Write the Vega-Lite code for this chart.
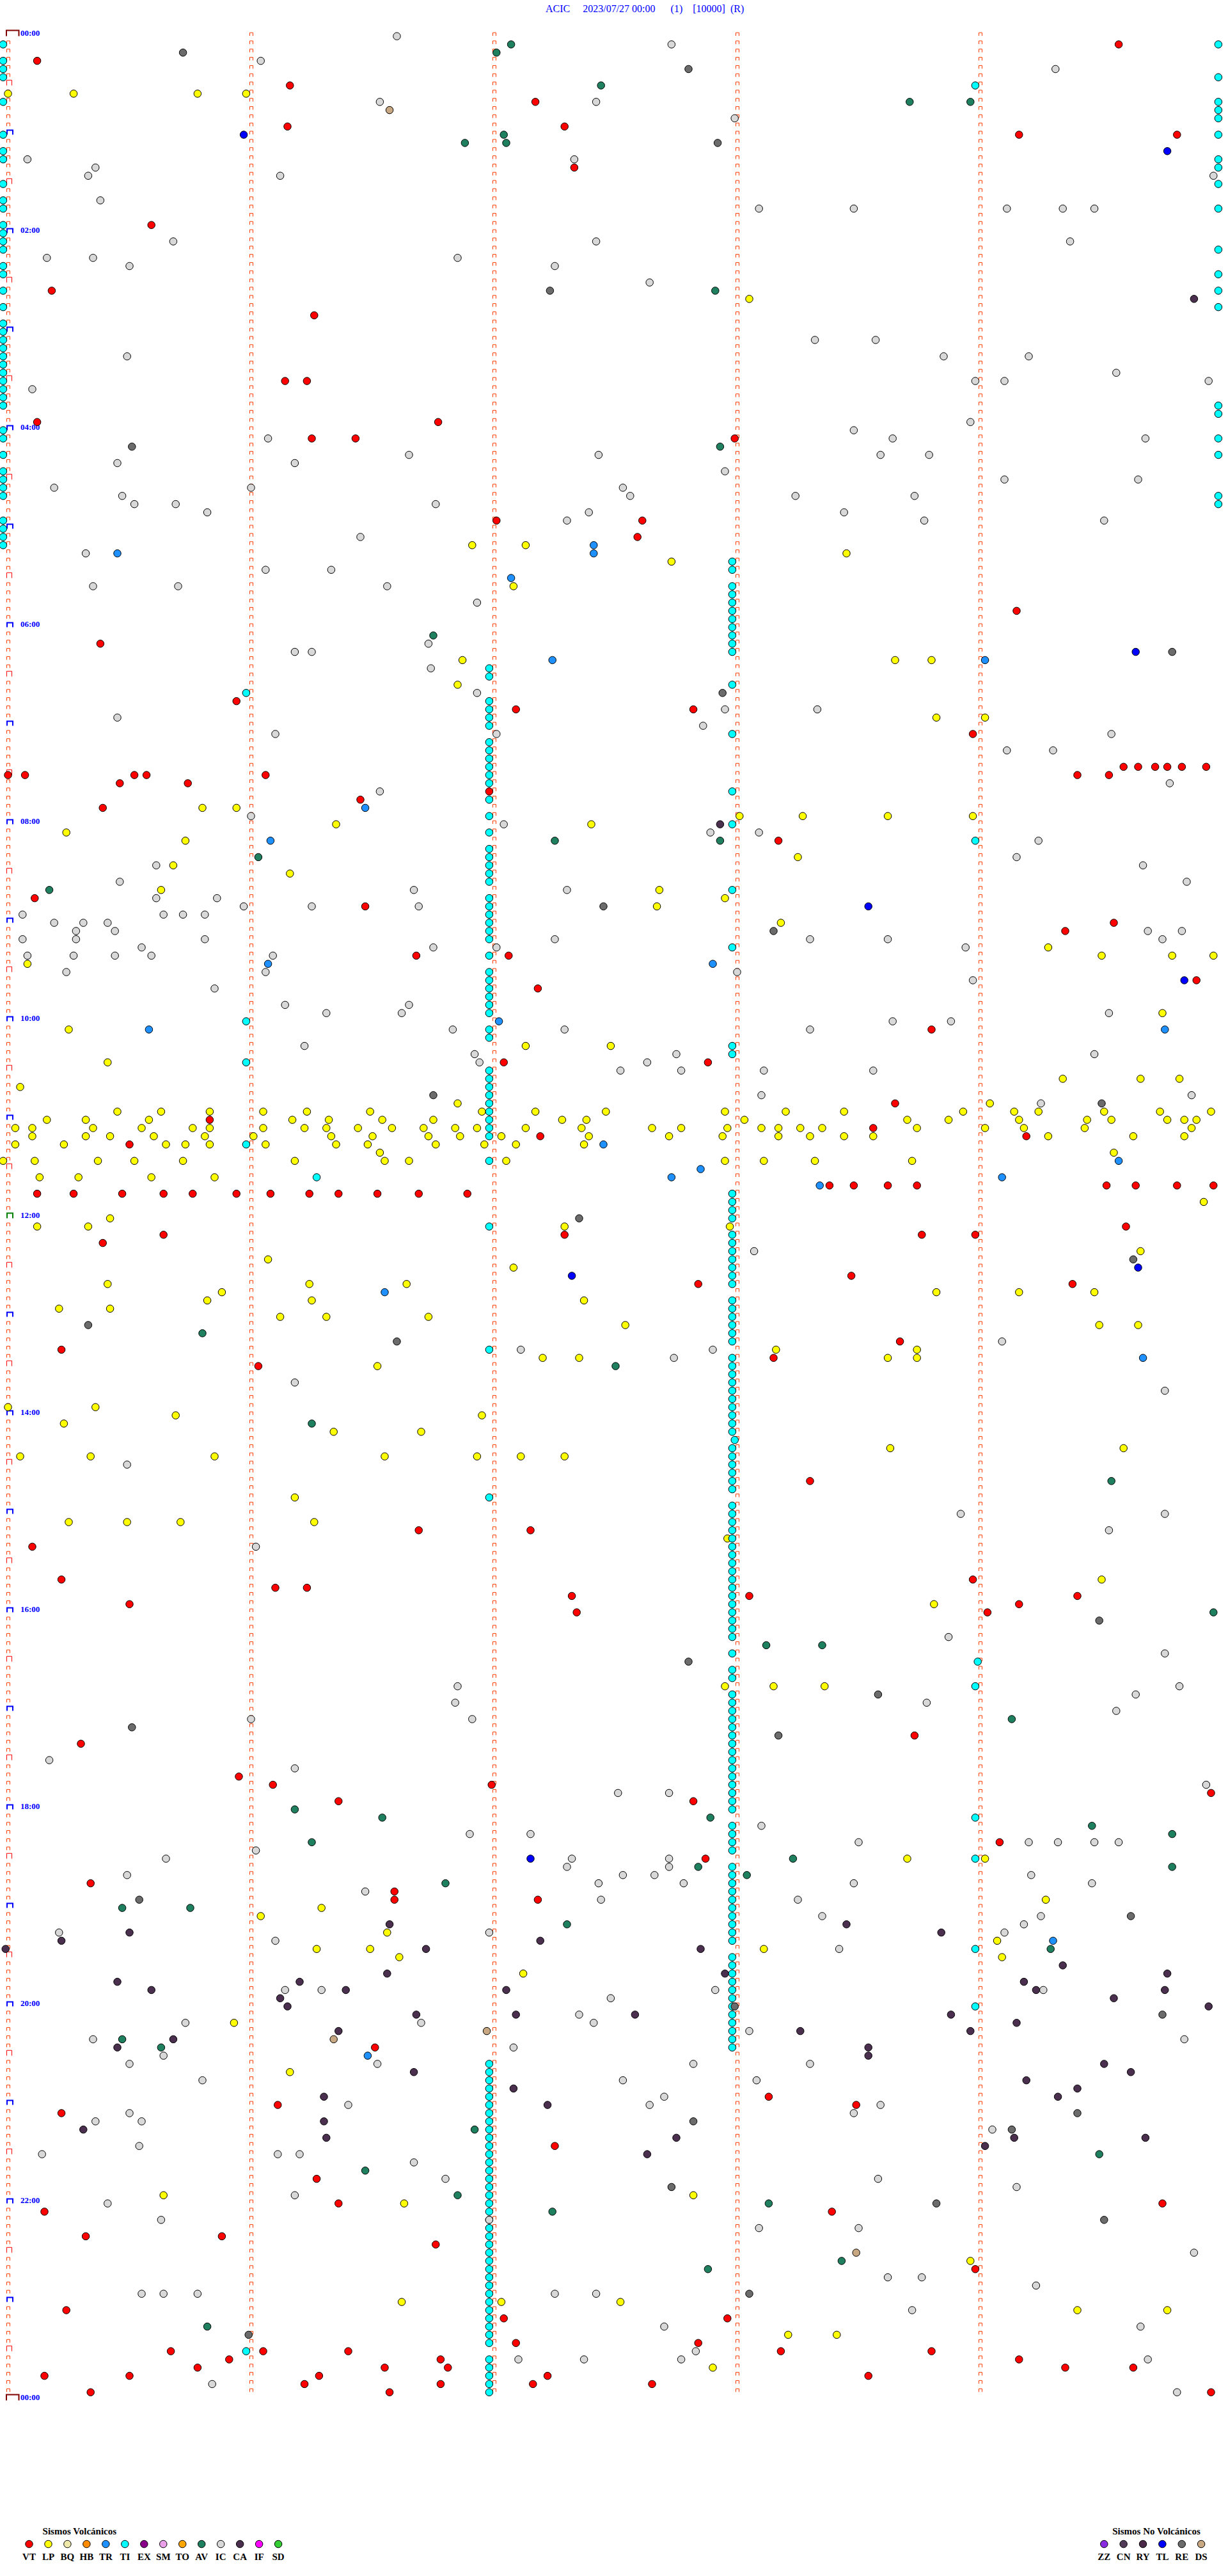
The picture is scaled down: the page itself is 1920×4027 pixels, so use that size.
{
"$schema":"https://vega.github.io/schema/vega-lite/v6.json",
"width":1920,"height":4027,"autosize":{"type":"none"},"padding":0,"background":"white",
"config":{"view":{"stroke":null}},
"resolve":{"scale":{"x":"independent"}},
"datasets":{
"rows":[{"r":0},{"r":1},{"r":2},{"r":3},{"r":4},{"r":5},{"r":6},{"r":7},{"r":8},{"r":9},{"r":10},{"r":11},{"r":12},{"r":13},{"r":14},{"r":15},{"r":16},{"r":17},{"r":18},{"r":19},{"r":20},{"r":21},{"r":22},{"r":23},{"r":24},{"r":25},{"r":26},{"r":27},{"r":28},{"r":29},{"r":30},{"r":31},{"r":32},{"r":33},{"r":34},{"r":35},{"r":36},{"r":37},{"r":38},{"r":39},{"r":40},{"r":41},{"r":42},{"r":43},{"r":44},{"r":45},{"r":46},{"r":47},{"r":48},{"r":49},{"r":50},{"r":51},{"r":52},{"r":53},{"r":54},{"r":55},{"r":56},{"r":57},{"r":58},{"r":59},{"r":60},{"r":61},{"r":62},{"r":63},{"r":64},{"r":65},{"r":66},{"r":67},{"r":68},{"r":69},{"r":70},{"r":71},{"r":72},{"r":73},{"r":74},{"r":75},{"r":76},{"r":77},{"r":78},{"r":79},{"r":80},{"r":81},{"r":82},{"r":83},{"r":84},{"r":85},{"r":86},{"r":87},{"r":88},{"r":89},{"r":90},{"r":91},{"r":92},{"r":93},{"r":94},{"r":95},{"r":96},{"r":97},{"r":98},{"r":99},{"r":100},{"r":101},{"r":102},{"r":103},{"r":104},{"r":105},{"r":106},{"r":107},{"r":108},{"r":109},{"r":110},{"r":111},{"r":112},{"r":113},{"r":114},{"r":115},{"r":116},{"r":117},{"r":118},{"r":119},{"r":120},{"r":121},{"r":122},{"r":123},{"r":124},{"r":125},{"r":126},{"r":127},{"r":128},{"r":129},{"r":130},{"r":131},{"r":132},{"r":133},{"r":134},{"r":135},{"r":136},{"r":137},{"r":138},{"r":139},{"r":140},{"r":141},{"r":142},{"r":143},{"r":144},{"r":145},{"r":146},{"r":147},{"r":148},{"r":149},{"r":150},{"r":151},{"r":152},{"r":153},{"r":154},{"r":155},{"r":156},{"r":157},{"r":158},{"r":159},{"r":160},{"r":161},{"r":162},{"r":163},{"r":164},{"r":165},{"r":166},{"r":167},{"r":168},{"r":169},{"r":170},{"r":171},{"r":172},{"r":173},{"r":174},{"r":175},{"r":176},{"r":177},{"r":178},{"r":179},{"r":180},{"r":181},{"r":182},{"r":183},{"r":184},{"r":185},{"r":186},{"r":187},{"r":188},{"r":189},{"r":190},{"r":191},{"r":192},{"r":193},{"r":194},{"r":195},{"r":196},{"r":197},{"r":198},{"r":199},{"r":200},{"r":201},{"r":202},{"r":203},{"r":204},{"r":205},{"r":206},{"r":207},{"r":208},{"r":209},{"r":210},{"r":211},{"r":212},{"r":213},{"r":214},{"r":215},{"r":216},{"r":217},{"r":218},{"r":219},{"r":220},{"r":221},{"r":222},{"r":223},{"r":224},{"r":225},{"r":226},{"r":227},{"r":228},{"r":229},{"r":230},{"r":231},{"r":232},{"r":233},{"r":234},{"r":235},{"r":236},{"r":237},{"r":238},{"r":239},{"r":240},{"r":241},{"r":242},{"r":243},{"r":244},{"r":245},{"r":246},{"r":247},{"r":248},{"r":249},{"r":250},{"r":251},{"r":252},{"r":253},{"r":254},{"r":255},{"r":256},{"r":257},{"r":258},{"r":259},{"r":260},{"r":261},{"r":262},{"r":263},{"r":264},{"r":265},{"r":266},{"r":267},{"r":268},{"r":269},{"r":270},{"r":271},{"r":272},{"r":273},{"r":274},{"r":275},{"r":276},{"r":277},{"r":278},{"r":279},{"r":280},{"r":281},{"r":282},{"r":283},{"r":284},{"r":285},{"r":286},{"r":287},{"r":288}],
"hours":[{"r":0,"l":"00:00"},{"r":24,"l":"02:00"},{"r":48,"l":"04:00"},{"r":72,"l":"06:00"},{"r":96,"l":"08:00"},{"r":120,"l":"10:00"},{"r":144,"l":"12:00"},{"r":168,"l":"14:00"},{"r":192,"l":"16:00"},{"r":216,"l":"18:00"},{"r":240,"l":"20:00"},{"r":264,"l":"22:00"},{"r":288,"l":"00:00"}],
"legv":[{"i":0,"k":"VT"},{"i":1,"k":"LP"},{"i":2,"k":"BQ"},{"i":3,"k":"HB"},{"i":4,"k":"TR"},{"i":5,"k":"TI"},{"i":6,"k":"EX"},{"i":7,"k":"SM"},{"i":8,"k":"TO"},{"i":9,"k":"AV"},{"i":10,"k":"IC"},{"i":11,"k":"CA"},{"i":12,"k":"IF"},{"i":13,"k":"SD"}],
"legn":[{"i":0,"k":"ZZ"},{"i":1,"k":"CN"},{"i":2,"k":"RY"},{"i":3,"k":"TL"},{"i":4,"k":"RE"},{"i":5,"k":"DS"}],
"ev":[
{"r":0,"m":1.6,"k":"IC"},
{"r":1,"m":-0.02,"k":"TI"},{"r":1,"m":2.07,"k":"AV"},{"r":1,"m":2.73,"k":"IC"},{"r":1,"m":4.57,"k":"VT"},{"r":1,"m":4.98,"k":"TI"},
{"r":2,"m":0.72,"k":"RE"},{"r":2,"m":2.01,"k":"AV"},
{"r":3,"m":-0.02,"k":"TI"},{"r":3,"m":0.12,"k":"VT"},{"r":3,"m":1.04,"k":"IC"},
{"r":4,"m":-0.02,"k":"TI"},{"r":4,"m":2.8,"k":"RE"},{"r":4,"m":4.31,"k":"IC"},
{"r":5,"m":-0.02,"k":"TI"},{"r":5,"m":4.98,"k":"TI"},
{"r":6,"m":1.16,"k":"VT"},{"r":6,"m":2.44,"k":"AV"},{"r":6,"m":3.98,"k":"TI"},
{"r":7,"m":0.0,"k":"LP"},{"r":7,"m":0.27,"k":"LP"},{"r":7,"m":0.78,"k":"LP"},{"r":7,"m":0.98,"k":"LP"},
{"r":8,"m":-0.02,"k":"TI"},{"r":8,"m":1.53,"k":"IC"},{"r":8,"m":2.17,"k":"VT"},{"r":8,"m":2.42,"k":"IC"},{"r":8,"m":3.71,"k":"AV"},{"r":8,"m":3.96,"k":"AV"},{"r":8,"m":4.98,"k":"TI"},
{"r":9,"m":1.57,"k":"DS"},{"r":9,"m":4.98,"k":"TI"},
{"r":10,"m":2.99,"k":"IC"},{"r":10,"m":4.98,"k":"TI"},
{"r":11,"m":1.15,"k":"VT"},{"r":11,"m":2.29,"k":"VT"},
{"r":12,"m":-0.02,"k":"TI"},{"r":12,"m":0.97,"k":"TL"},{"r":12,"m":2.04,"k":"AV"},{"r":12,"m":4.16,"k":"VT"},{"r":12,"m":4.81,"k":"VT"},{"r":12,"m":4.98,"k":"TI"},
{"r":13,"m":1.88,"k":"AV"},{"r":13,"m":2.05,"k":"AV"},{"r":13,"m":2.92,"k":"RE"},
{"r":14,"m":-0.02,"k":"TI"},{"r":14,"m":4.77,"k":"TL"},
{"r":15,"m":-0.02,"k":"TI"},{"r":15,"m":0.08,"k":"IC"},{"r":15,"m":2.33,"k":"IC"},{"r":15,"m":4.98,"k":"TI"},
{"r":16,"m":0.36,"k":"IC"},{"r":16,"m":2.33,"k":"VT"},{"r":16,"m":4.98,"k":"TI"},
{"r":17,"m":0.33,"k":"IC"},{"r":17,"m":1.12,"k":"IC"},{"r":17,"m":4.96,"k":"IC"},
{"r":18,"m":-0.02,"k":"TI"},{"r":18,"m":4.98,"k":"TI"},
{"r":20,"m":-0.02,"k":"TI"},{"r":20,"m":0.38,"k":"IC"},
{"r":21,"m":-0.02,"k":"TI"},{"r":21,"m":3.09,"k":"IC"},{"r":21,"m":3.48,"k":"IC"},{"r":21,"m":4.11,"k":"IC"},{"r":21,"m":4.34,"k":"IC"},{"r":21,"m":4.47,"k":"IC"},{"r":21,"m":4.98,"k":"TI"},
{"r":23,"m":-0.02,"k":"TI"},{"r":23,"m":0.59,"k":"VT"},
{"r":24,"m":-0.02,"k":"TI"},
{"r":25,"m":-0.02,"k":"TI"},{"r":25,"m":0.68,"k":"IC"},{"r":25,"m":2.42,"k":"IC"},{"r":25,"m":4.37,"k":"IC"},
{"r":26,"m":-0.02,"k":"TI"},{"r":26,"m":4.98,"k":"TI"},
{"r":27,"m":0.16,"k":"IC"},{"r":27,"m":0.35,"k":"IC"},{"r":27,"m":1.85,"k":"IC"},
{"r":28,"m":-0.02,"k":"TI"},{"r":28,"m":0.5,"k":"IC"},{"r":28,"m":2.25,"k":"IC"},
{"r":29,"m":-0.02,"k":"TI"},{"r":29,"m":4.98,"k":"TI"},
{"r":30,"m":2.64,"k":"IC"},
{"r":31,"m":-0.02,"k":"TI"},{"r":31,"m":0.18,"k":"VT"},{"r":31,"m":2.23,"k":"RE"},{"r":31,"m":2.91,"k":"AV"},{"r":31,"m":4.98,"k":"TI"},
{"r":32,"m":3.05,"k":"LP"},{"r":32,"m":4.88,"k":"CA"},
{"r":33,"m":-0.02,"k":"TI"},{"r":33,"m":4.98,"k":"TI"},
{"r":34,"m":1.26,"k":"VT"},
{"r":35,"m":-0.02,"k":"TI"},{"r":36,"m":-0.02,"k":"TI"},
{"r":37,"m":-0.02,"k":"TI"},{"r":37,"m":3.32,"k":"IC"},{"r":37,"m":3.57,"k":"IC"},
{"r":38,"m":-0.02,"k":"TI"},
{"r":39,"m":-0.02,"k":"TI"},{"r":39,"m":0.49,"k":"IC"},{"r":39,"m":3.85,"k":"IC"},{"r":39,"m":4.2,"k":"IC"},
{"r":40,"m":-0.02,"k":"TI"},
{"r":41,"m":-0.02,"k":"TI"},{"r":41,"m":4.56,"k":"IC"},
{"r":42,"m":-0.02,"k":"TI"},{"r":42,"m":1.14,"k":"VT"},{"r":42,"m":1.23,"k":"VT"},{"r":42,"m":3.98,"k":"IC"},{"r":42,"m":4.1,"k":"IC"},{"r":42,"m":4.94,"k":"IC"},
{"r":43,"m":-0.02,"k":"TI"},{"r":43,"m":0.1,"k":"IC"},
{"r":44,"m":-0.02,"k":"TI"},
{"r":45,"m":-0.02,"k":"TI"},{"r":45,"m":4.98,"k":"TI"},
{"r":46,"m":4.98,"k":"TI"},
{"r":47,"m":0.12,"k":"VT"},{"r":47,"m":1.77,"k":"VT"},{"r":47,"m":3.96,"k":"IC"},
{"r":48,"m":-0.02,"k":"TI"},{"r":48,"m":3.48,"k":"IC"},
{"r":49,"m":-0.02,"k":"TI"},{"r":49,"m":1.07,"k":"IC"},{"r":49,"m":1.25,"k":"VT"},{"r":49,"m":1.43,"k":"VT"},{"r":49,"m":2.99,"k":"VT"},{"r":49,"m":3.64,"k":"IC"},{"r":49,"m":4.68,"k":"IC"},{"r":49,"m":4.98,"k":"TI"},
{"r":50,"m":0.51,"k":"RE"},{"r":50,"m":2.93,"k":"AV"},
{"r":51,"m":-0.02,"k":"TI"},{"r":51,"m":1.65,"k":"IC"},{"r":51,"m":2.43,"k":"IC"},{"r":51,"m":3.59,"k":"IC"},{"r":51,"m":3.79,"k":"IC"},{"r":51,"m":4.98,"k":"TI"},
{"r":52,"m":0.45,"k":"IC"},{"r":52,"m":1.18,"k":"IC"},
{"r":53,"m":-0.02,"k":"TI"},{"r":53,"m":2.95,"k":"IC"},
{"r":54,"m":-0.02,"k":"TI"},{"r":54,"m":4.1,"k":"IC"},{"r":54,"m":4.65,"k":"IC"},
{"r":55,"m":-0.02,"k":"TI"},{"r":55,"m":0.19,"k":"IC"},{"r":55,"m":1.0,"k":"IC"},{"r":55,"m":2.53,"k":"IC"},
{"r":56,"m":-0.02,"k":"TI"},{"r":56,"m":0.47,"k":"IC"},{"r":56,"m":2.56,"k":"IC"},{"r":56,"m":3.24,"k":"IC"},{"r":56,"m":3.73,"k":"IC"},{"r":56,"m":4.98,"k":"TI"},
{"r":57,"m":0.52,"k":"IC"},{"r":57,"m":0.69,"k":"IC"},{"r":57,"m":1.76,"k":"IC"},{"r":57,"m":4.98,"k":"TI"},
{"r":58,"m":0.82,"k":"IC"},{"r":58,"m":2.39,"k":"IC"},{"r":58,"m":3.44,"k":"IC"},
{"r":59,"m":-0.02,"k":"TI"},{"r":59,"m":2.01,"k":"VT"},{"r":59,"m":2.3,"k":"IC"},{"r":59,"m":2.61,"k":"VT"},{"r":59,"m":3.77,"k":"IC"},{"r":59,"m":4.51,"k":"IC"},
{"r":60,"m":-0.02,"k":"TI"},
{"r":61,"m":-0.02,"k":"TI"},{"r":61,"m":1.45,"k":"IC"},{"r":61,"m":2.59,"k":"VT"},
{"r":62,"m":-0.02,"k":"TI"},{"r":62,"m":1.91,"k":"LP"},{"r":62,"m":2.13,"k":"LP"},{"r":62,"m":2.41,"k":"TR"},
{"r":63,"m":0.32,"k":"IC"},{"r":63,"m":0.45,"k":"TR"},{"r":63,"m":2.41,"k":"TR"},{"r":63,"m":3.45,"k":"LP"},
{"r":64,"m":2.73,"k":"LP"},{"r":64,"m":2.98,"k":"TI"},
{"r":65,"m":1.06,"k":"IC"},{"r":65,"m":1.33,"k":"IC"},{"r":65,"m":2.98,"k":"TI"},
{"r":66,"m":2.07,"k":"TR"},
{"r":67,"m":0.35,"k":"IC"},{"r":67,"m":0.7,"k":"IC"},{"r":67,"m":1.56,"k":"IC"},{"r":67,"m":2.08,"k":"LP"},{"r":67,"m":2.98,"k":"TI"},
{"r":68,"m":2.98,"k":"TI"},
{"r":69,"m":1.93,"k":"IC"},{"r":69,"m":2.98,"k":"TI"},
{"r":70,"m":2.98,"k":"TI"},{"r":70,"m":4.15,"k":"VT"},
{"r":71,"m":2.98,"k":"TI"},{"r":72,"m":2.98,"k":"TI"},
{"r":73,"m":1.75,"k":"AV"},{"r":73,"m":2.98,"k":"TI"},
{"r":74,"m":0.38,"k":"VT"},{"r":74,"m":1.73,"k":"IC"},{"r":74,"m":2.98,"k":"TI"},
{"r":75,"m":1.18,"k":"IC"},{"r":75,"m":1.25,"k":"IC"},{"r":75,"m":2.98,"k":"TI"},{"r":75,"m":4.64,"k":"TL"},{"r":75,"m":4.79,"k":"RE"},
{"r":76,"m":1.87,"k":"LP"},{"r":76,"m":2.24,"k":"TR"},{"r":76,"m":3.65,"k":"LP"},{"r":76,"m":3.8,"k":"LP"},{"r":76,"m":4.02,"k":"TR"},
{"r":77,"m":1.74,"k":"IC"},{"r":77,"m":1.98,"k":"TI"},
{"r":78,"m":1.98,"k":"TI"},
{"r":79,"m":1.85,"k":"LP"},{"r":79,"m":2.98,"k":"TI"},
{"r":80,"m":0.98,"k":"TI"},{"r":80,"m":1.93,"k":"IC"},{"r":80,"m":2.94,"k":"RE"},
{"r":81,"m":0.94,"k":"VT"},{"r":81,"m":1.98,"k":"TI"},
{"r":82,"m":1.98,"k":"TI"},{"r":82,"m":2.09,"k":"VT"},{"r":82,"m":2.82,"k":"VT"},{"r":82,"m":2.95,"k":"IC"},{"r":82,"m":3.33,"k":"IC"},
{"r":83,"m":0.45,"k":"IC"},{"r":83,"m":1.98,"k":"TI"},{"r":83,"m":3.82,"k":"LP"},{"r":83,"m":4.02,"k":"LP"},
{"r":84,"m":1.98,"k":"TI"},{"r":84,"m":2.86,"k":"IC"},
{"r":85,"m":1.1,"k":"IC"},{"r":85,"m":2.01,"k":"IC"},{"r":85,"m":2.98,"k":"TI"},{"r":85,"m":3.97,"k":"VT"},{"r":85,"m":4.54,"k":"IC"},
{"r":86,"m":1.98,"k":"TI"},
{"r":87,"m":1.98,"k":"TI"},{"r":87,"m":4.11,"k":"IC"},{"r":87,"m":4.3,"k":"IC"},
{"r":88,"m":1.98,"k":"TI"},
{"r":89,"m":1.98,"k":"TI"},{"r":89,"m":4.59,"k":"VT"},{"r":89,"m":4.65,"k":"VT"},{"r":89,"m":4.72,"k":"VT"},{"r":89,"m":4.77,"k":"VT"},{"r":89,"m":4.83,"k":"VT"},{"r":89,"m":4.93,"k":"VT"},
{"r":90,"m":0.0,"k":"VT"},{"r":90,"m":0.07,"k":"VT"},{"r":90,"m":0.52,"k":"VT"},{"r":90,"m":0.57,"k":"VT"},{"r":90,"m":1.06,"k":"VT"},{"r":90,"m":1.98,"k":"TI"},{"r":90,"m":4.4,"k":"VT"},{"r":90,"m":4.53,"k":"VT"},
{"r":91,"m":0.46,"k":"VT"},{"r":91,"m":0.74,"k":"VT"},{"r":91,"m":1.98,"k":"TI"},{"r":91,"m":4.78,"k":"IC"},
{"r":92,"m":1.53,"k":"IC"},{"r":92,"m":1.98,"k":"VT"},{"r":92,"m":2.98,"k":"TI"},
{"r":93,"m":1.45,"k":"VT"},{"r":93,"m":1.98,"k":"TI"},
{"r":94,"m":0.39,"k":"VT"},{"r":94,"m":0.8,"k":"LP"},{"r":94,"m":0.94,"k":"LP"},{"r":94,"m":1.47,"k":"TR"},
{"r":95,"m":1.0,"k":"IC"},{"r":95,"m":1.98,"k":"TI"},{"r":95,"m":3.01,"k":"LP"},{"r":95,"m":3.27,"k":"LP"},{"r":95,"m":3.62,"k":"LP"},{"r":95,"m":3.97,"k":"LP"},
{"r":96,"m":1.35,"k":"LP"},{"r":96,"m":2.04,"k":"IC"},{"r":96,"m":2.4,"k":"LP"},{"r":96,"m":2.93,"k":"CA"},{"r":96,"m":2.98,"k":"TI"},
{"r":97,"m":0.24,"k":"LP"},{"r":97,"m":1.98,"k":"TI"},{"r":97,"m":2.89,"k":"IC"},{"r":97,"m":3.09,"k":"IC"},
{"r":98,"m":0.73,"k":"LP"},{"r":98,"m":1.08,"k":"TR"},{"r":98,"m":2.25,"k":"AV"},{"r":98,"m":2.93,"k":"AV"},{"r":98,"m":3.17,"k":"VT"},{"r":98,"m":3.98,"k":"TI"},{"r":98,"m":4.24,"k":"IC"},
{"r":99,"m":1.98,"k":"TI"},
{"r":100,"m":1.03,"k":"AV"},{"r":100,"m":1.98,"k":"TI"},{"r":100,"m":3.25,"k":"LP"},{"r":100,"m":4.15,"k":"IC"},
{"r":101,"m":0.61,"k":"IC"},{"r":101,"m":0.68,"k":"LP"},{"r":101,"m":1.98,"k":"TI"},{"r":101,"m":4.67,"k":"IC"},
{"r":102,"m":1.16,"k":"LP"},{"r":102,"m":1.98,"k":"TI"},
{"r":103,"m":0.46,"k":"IC"},{"r":103,"m":1.98,"k":"TI"},{"r":103,"m":4.85,"k":"IC"},
{"r":104,"m":0.17,"k":"AV"},{"r":104,"m":0.63,"k":"LP"},{"r":104,"m":1.67,"k":"IC"},{"r":104,"m":2.3,"k":"IC"},{"r":104,"m":2.68,"k":"LP"},{"r":104,"m":2.98,"k":"TI"},
{"r":105,"m":0.11,"k":"VT"},{"r":105,"m":0.61,"k":"IC"},{"r":105,"m":0.86,"k":"IC"},{"r":105,"m":1.98,"k":"TI"},{"r":105,"m":2.95,"k":"LP"},
{"r":106,"m":0.97,"k":"IC"},{"r":106,"m":1.25,"k":"IC"},{"r":106,"m":1.47,"k":"VT"},{"r":106,"m":1.69,"k":"IC"},{"r":106,"m":1.98,"k":"TI"},{"r":106,"m":2.45,"k":"RE"},{"r":106,"m":2.67,"k":"LP"},{"r":106,"m":3.54,"k":"TL"},
{"r":107,"m":0.06,"k":"IC"},{"r":107,"m":0.64,"k":"IC"},{"r":107,"m":0.72,"k":"IC"},{"r":107,"m":0.81,"k":"IC"},{"r":107,"m":1.98,"k":"TI"},
{"r":108,"m":0.19,"k":"IC"},{"r":108,"m":0.31,"k":"IC"},{"r":108,"m":0.41,"k":"IC"},{"r":108,"m":1.98,"k":"TI"},{"r":108,"m":3.18,"k":"LP"},{"r":108,"m":4.55,"k":"VT"},
{"r":109,"m":0.28,"k":"IC"},{"r":109,"m":0.44,"k":"IC"},{"r":109,"m":1.98,"k":"TI"},{"r":109,"m":3.15,"k":"RE"},{"r":109,"m":4.35,"k":"VT"},{"r":109,"m":4.69,"k":"IC"},{"r":109,"m":4.83,"k":"IC"},
{"r":110,"m":0.06,"k":"IC"},{"r":110,"m":0.28,"k":"IC"},{"r":110,"m":0.81,"k":"IC"},{"r":110,"m":1.98,"k":"TI"},{"r":110,"m":2.25,"k":"IC"},{"r":110,"m":3.3,"k":"IC"},{"r":110,"m":3.62,"k":"IC"},{"r":110,"m":4.75,"k":"IC"},
{"r":111,"m":0.55,"k":"IC"},{"r":111,"m":1.75,"k":"IC"},{"r":111,"m":2.01,"k":"IC"},{"r":111,"m":2.98,"k":"TI"},{"r":111,"m":3.94,"k":"IC"},{"r":111,"m":4.28,"k":"LP"},
{"r":112,"m":0.08,"k":"IC"},{"r":112,"m":0.27,"k":"IC"},{"r":112,"m":0.44,"k":"IC"},{"r":112,"m":0.59,"k":"IC"},{"r":112,"m":1.09,"k":"IC"},{"r":112,"m":1.68,"k":"VT"},{"r":112,"m":1.98,"k":"TI"},{"r":112,"m":2.06,"k":"VT"},{"r":112,"m":4.5,"k":"LP"},{"r":112,"m":4.79,"k":"LP"},{"r":112,"m":4.96,"k":"LP"},
{"r":113,"m":0.08,"k":"LP"},{"r":113,"m":1.07,"k":"TR"},{"r":113,"m":2.9,"k":"TR"},
{"r":114,"m":0.24,"k":"IC"},{"r":114,"m":1.06,"k":"IC"},{"r":114,"m":1.98,"k":"TI"},{"r":114,"m":3.0,"k":"IC"},
{"r":115,"m":1.98,"k":"TI"},{"r":115,"m":3.97,"k":"IC"},{"r":115,"m":4.84,"k":"TL"},{"r":115,"m":4.89,"k":"VT"},
{"r":116,"m":0.85,"k":"IC"},{"r":116,"m":1.98,"k":"TI"},{"r":116,"m":2.18,"k":"VT"},
{"r":117,"m":1.98,"k":"TI"},
{"r":118,"m":1.14,"k":"IC"},{"r":118,"m":1.65,"k":"IC"},{"r":118,"m":1.98,"k":"TI"},
{"r":119,"m":1.31,"k":"IC"},{"r":119,"m":1.62,"k":"IC"},{"r":119,"m":1.98,"k":"TI"},{"r":119,"m":4.53,"k":"IC"},{"r":119,"m":4.75,"k":"LP"},
{"r":120,"m":0.98,"k":"TI"},{"r":120,"m":2.02,"k":"TR"},{"r":120,"m":3.64,"k":"IC"},{"r":120,"m":3.88,"k":"IC"},
{"r":121,"m":0.25,"k":"LP"},{"r":121,"m":0.58,"k":"TR"},{"r":121,"m":1.83,"k":"IC"},{"r":121,"m":1.98,"k":"TI"},{"r":121,"m":2.29,"k":"IC"},{"r":121,"m":3.3,"k":"IC"},{"r":121,"m":3.8,"k":"VT"},{"r":121,"m":4.76,"k":"TR"},
{"r":122,"m":1.98,"k":"TI"},
{"r":123,"m":1.22,"k":"IC"},{"r":123,"m":2.13,"k":"LP"},{"r":123,"m":2.48,"k":"LP"},{"r":123,"m":2.98,"k":"TI"},
{"r":124,"m":1.92,"k":"IC"},{"r":124,"m":2.75,"k":"IC"},{"r":124,"m":2.98,"k":"TI"},{"r":124,"m":4.47,"k":"IC"},
{"r":125,"m":0.41,"k":"LP"},{"r":125,"m":0.98,"k":"TI"},{"r":125,"m":1.94,"k":"IC"},{"r":125,"m":2.04,"k":"VT"},{"r":125,"m":2.63,"k":"IC"},{"r":125,"m":2.88,"k":"VT"},
{"r":126,"m":1.98,"k":"TI"},{"r":126,"m":2.52,"k":"IC"},{"r":126,"m":2.77,"k":"IC"},{"r":126,"m":3.11,"k":"IC"},{"r":126,"m":3.56,"k":"IC"},
{"r":127,"m":1.98,"k":"TI"},{"r":127,"m":4.34,"k":"LP"},{"r":127,"m":4.66,"k":"LP"},{"r":127,"m":4.82,"k":"LP"},
{"r":128,"m":0.05,"k":"LP"},{"r":128,"m":1.98,"k":"TI"},
{"r":129,"m":1.75,"k":"RE"},{"r":129,"m":1.98,"k":"TI"},{"r":129,"m":3.1,"k":"IC"},{"r":129,"m":4.87,"k":"IC"},
{"r":130,"m":1.85,"k":"LP"},{"r":130,"m":1.98,"k":"TI"},{"r":130,"m":3.65,"k":"VT"},{"r":130,"m":4.04,"k":"LP"},{"r":130,"m":4.25,"k":"IC"},{"r":130,"m":4.5,"k":"RE"},
{"r":131,"m":0.45,"k":"LP"},{"r":131,"m":0.63,"k":"LP"},{"r":131,"m":0.83,"k":"LP"},{"r":131,"m":1.05,"k":"LP"},{"r":131,"m":1.23,"k":"LP"},{"r":131,"m":1.49,"k":"LP"},{"r":131,"m":1.95,"k":"LP"},{"r":131,"m":1.98,"k":"TI"},{"r":131,"m":2.17,"k":"LP"},{"r":131,"m":2.46,"k":"LP"},{"r":131,"m":2.95,"k":"LP"},{"r":131,"m":3.2,"k":"LP"},{"r":131,"m":3.44,"k":"LP"},{"r":131,"m":3.93,"k":"LP"},{"r":131,"m":4.14,"k":"LP"},{"r":131,"m":4.24,"k":"LP"},{"r":131,"m":4.51,"k":"LP"},{"r":131,"m":4.74,"k":"LP"},{"r":131,"m":4.95,"k":"LP"},
{"r":132,"m":0.16,"k":"LP"},{"r":132,"m":0.32,"k":"LP"},{"r":132,"m":0.58,"k":"LP"},{"r":132,"m":0.83,"k":"VT"},{"r":132,"m":1.17,"k":"LP"},{"r":132,"m":1.32,"k":"LP"},{"r":132,"m":1.54,"k":"LP"},{"r":132,"m":1.75,"k":"LP"},{"r":132,"m":1.98,"k":"TI"},{"r":132,"m":2.28,"k":"LP"},{"r":132,"m":2.38,"k":"LP"},{"r":132,"m":3.03,"k":"LP"},{"r":132,"m":3.7,"k":"LP"},{"r":132,"m":3.87,"k":"LP"},{"r":132,"m":4.16,"k":"LP"},{"r":132,"m":4.44,"k":"LP"},{"r":132,"m":4.54,"k":"LP"},{"r":132,"m":4.77,"k":"LP"},{"r":132,"m":4.84,"k":"LP"},{"r":132,"m":4.89,"k":"LP"},
{"r":133,"m":0.03,"k":"LP"},{"r":133,"m":0.1,"k":"LP"},{"r":133,"m":0.35,"k":"LP"},{"r":133,"m":0.55,"k":"LP"},{"r":133,"m":0.76,"k":"LP"},{"r":133,"m":0.83,"k":"LP"},{"r":133,"m":1.05,"k":"LP"},{"r":133,"m":1.22,"k":"LP"},{"r":133,"m":1.31,"k":"LP"},{"r":133,"m":1.44,"k":"LP"},{"r":133,"m":1.58,"k":"LP"},{"r":133,"m":1.71,"k":"LP"},{"r":133,"m":1.84,"k":"LP"},{"r":133,"m":1.93,"k":"LP"},{"r":133,"m":1.98,"k":"TI"},{"r":133,"m":2.13,"k":"LP"},{"r":133,"m":2.36,"k":"LP"},{"r":133,"m":2.65,"k":"LP"},{"r":133,"m":2.77,"k":"LP"},{"r":133,"m":2.96,"k":"LP"},{"r":133,"m":3.1,"k":"LP"},{"r":133,"m":3.17,"k":"LP"},{"r":133,"m":3.26,"k":"LP"},{"r":133,"m":3.35,"k":"LP"},{"r":133,"m":3.56,"k":"VT"},{"r":133,"m":3.74,"k":"LP"},{"r":133,"m":4.02,"k":"LP"},{"r":133,"m":4.18,"k":"LP"},{"r":133,"m":4.43,"k":"LP"},{"r":133,"m":4.87,"k":"LP"},
{"r":134,"m":0.1,"k":"LP"},{"r":134,"m":0.32,"k":"LP"},{"r":134,"m":0.42,"k":"LP"},{"r":134,"m":0.6,"k":"LP"},{"r":134,"m":0.81,"k":"LP"},{"r":134,"m":1.01,"k":"LP"},{"r":134,"m":1.33,"k":"LP"},{"r":134,"m":1.5,"k":"LP"},{"r":134,"m":1.73,"k":"LP"},{"r":134,"m":1.86,"k":"LP"},{"r":134,"m":1.98,"k":"TI"},{"r":134,"m":2.03,"k":"LP"},{"r":134,"m":2.19,"k":"VT"},{"r":134,"m":2.39,"k":"LP"},{"r":134,"m":2.72,"k":"LP"},{"r":134,"m":2.94,"k":"LP"},{"r":134,"m":3.17,"k":"LP"},{"r":134,"m":3.3,"k":"LP"},{"r":134,"m":3.44,"k":"LP"},{"r":134,"m":3.56,"k":"LP"},{"r":134,"m":4.19,"k":"VT"},{"r":134,"m":4.28,"k":"LP"},{"r":134,"m":4.63,"k":"LP"},{"r":134,"m":4.84,"k":"LP"},
{"r":135,"m":0.03,"k":"LP"},{"r":135,"m":0.23,"k":"LP"},{"r":135,"m":0.5,"k":"VT"},{"r":135,"m":0.65,"k":"LP"},{"r":135,"m":0.73,"k":"LP"},{"r":135,"m":0.83,"k":"LP"},{"r":135,"m":0.98,"k":"TI"},{"r":135,"m":1.06,"k":"LP"},{"r":135,"m":1.35,"k":"LP"},{"r":135,"m":1.48,"k":"LP"},{"r":135,"m":1.76,"k":"LP"},{"r":135,"m":1.96,"k":"LP"},{"r":135,"m":2.09,"k":"LP"},{"r":135,"m":2.37,"k":"LP"},{"r":135,"m":2.45,"k":"TR"},
{"r":136,"m":1.53,"k":"LP"},{"r":136,"m":4.55,"k":"LP"},
{"r":137,"m":-0.02,"k":"LP"},{"r":137,"m":0.11,"k":"LP"},{"r":137,"m":0.37,"k":"LP"},{"r":137,"m":0.52,"k":"LP"},{"r":137,"m":0.72,"k":"LP"},{"r":137,"m":1.18,"k":"LP"},{"r":137,"m":1.55,"k":"LP"},{"r":137,"m":1.65,"k":"LP"},{"r":137,"m":1.98,"k":"TI"},{"r":137,"m":2.05,"k":"LP"},{"r":137,"m":2.95,"k":"LP"},{"r":137,"m":3.11,"k":"LP"},{"r":137,"m":3.32,"k":"LP"},{"r":137,"m":3.72,"k":"LP"},{"r":137,"m":4.57,"k":"TR"},
{"r":138,"m":2.85,"k":"TR"},
{"r":139,"m":0.13,"k":"LP"},{"r":139,"m":0.29,"k":"LP"},{"r":139,"m":0.59,"k":"LP"},{"r":139,"m":0.85,"k":"LP"},{"r":139,"m":1.27,"k":"TI"},{"r":139,"m":2.73,"k":"TR"},{"r":139,"m":4.09,"k":"TR"},
{"r":140,"m":3.34,"k":"TR"},{"r":140,"m":3.38,"k":"VT"},{"r":140,"m":3.48,"k":"VT"},{"r":140,"m":3.62,"k":"VT"},{"r":140,"m":3.74,"k":"VT"},{"r":140,"m":4.52,"k":"VT"},{"r":140,"m":4.64,"k":"VT"},{"r":140,"m":4.81,"k":"VT"},{"r":140,"m":4.96,"k":"VT"},
{"r":141,"m":0.12,"k":"VT"},{"r":141,"m":0.27,"k":"VT"},{"r":141,"m":0.47,"k":"VT"},{"r":141,"m":0.64,"k":"VT"},{"r":141,"m":0.76,"k":"VT"},{"r":141,"m":0.94,"k":"VT"},{"r":141,"m":1.08,"k":"VT"},{"r":141,"m":1.24,"k":"VT"},{"r":141,"m":1.36,"k":"VT"},{"r":141,"m":1.52,"k":"VT"},{"r":141,"m":1.69,"k":"VT"},{"r":141,"m":1.89,"k":"VT"},{"r":141,"m":2.98,"k":"TI"},
{"r":142,"m":2.98,"k":"TI"},{"r":142,"m":4.92,"k":"LP"},
{"r":143,"m":2.98,"k":"TI"},
{"r":144,"m":0.42,"k":"LP"},{"r":144,"m":2.35,"k":"RE"},{"r":144,"m":2.98,"k":"TI"},
{"r":145,"m":0.12,"k":"LP"},{"r":145,"m":0.33,"k":"LP"},{"r":145,"m":1.98,"k":"TI"},{"r":145,"m":2.29,"k":"LP"},{"r":145,"m":2.97,"k":"LP"},{"r":145,"m":4.6,"k":"VT"},
{"r":146,"m":0.64,"k":"VT"},{"r":146,"m":2.29,"k":"VT"},{"r":146,"m":2.98,"k":"TI"},{"r":146,"m":3.76,"k":"VT"},{"r":146,"m":3.98,"k":"VT"},
{"r":147,"m":0.39,"k":"VT"},{"r":147,"m":2.98,"k":"TI"},
{"r":148,"m":2.98,"k":"TI"},{"r":148,"m":3.07,"k":"IC"},{"r":148,"m":4.66,"k":"LP"},
{"r":149,"m":1.07,"k":"LP"},{"r":149,"m":2.98,"k":"TI"},{"r":149,"m":4.63,"k":"RE"},
{"r":150,"m":2.08,"k":"LP"},{"r":150,"m":2.98,"k":"TI"},{"r":150,"m":4.65,"k":"TL"},
{"r":151,"m":2.32,"k":"TL"},{"r":151,"m":2.98,"k":"TI"},{"r":151,"m":3.47,"k":"VT"},
{"r":152,"m":0.41,"k":"LP"},{"r":152,"m":1.24,"k":"LP"},{"r":152,"m":1.64,"k":"LP"},{"r":152,"m":2.84,"k":"VT"},{"r":152,"m":2.98,"k":"TI"},{"r":152,"m":4.38,"k":"VT"},
{"r":153,"m":0.88,"k":"LP"},{"r":153,"m":1.55,"k":"TR"},{"r":153,"m":3.82,"k":"LP"},{"r":153,"m":4.16,"k":"LP"},{"r":153,"m":4.47,"k":"LP"},
{"r":154,"m":0.82,"k":"LP"},{"r":154,"m":1.25,"k":"LP"},{"r":154,"m":2.37,"k":"LP"},{"r":154,"m":2.98,"k":"TI"},
{"r":155,"m":0.21,"k":"LP"},{"r":155,"m":0.42,"k":"LP"},{"r":155,"m":2.98,"k":"TI"},
{"r":156,"m":1.12,"k":"LP"},{"r":156,"m":1.31,"k":"LP"},{"r":156,"m":1.73,"k":"LP"},{"r":156,"m":2.98,"k":"TI"},
{"r":157,"m":0.33,"k":"RE"},{"r":157,"m":2.54,"k":"LP"},{"r":157,"m":2.98,"k":"TI"},{"r":157,"m":4.49,"k":"LP"},{"r":157,"m":4.65,"k":"LP"},
{"r":158,"m":0.8,"k":"AV"},{"r":158,"m":2.98,"k":"TI"},
{"r":159,"m":1.6,"k":"RE"},{"r":159,"m":2.98,"k":"TI"},{"r":159,"m":3.67,"k":"VT"},{"r":159,"m":4.09,"k":"IC"},
{"r":160,"m":0.22,"k":"VT"},{"r":160,"m":1.98,"k":"TI"},{"r":160,"m":2.11,"k":"IC"},{"r":160,"m":2.9,"k":"IC"},{"r":160,"m":3.16,"k":"LP"},{"r":160,"m":3.74,"k":"LP"},
{"r":161,"m":2.2,"k":"LP"},{"r":161,"m":2.35,"k":"LP"},{"r":161,"m":2.74,"k":"IC"},{"r":161,"m":2.98,"k":"TI"},{"r":161,"m":3.15,"k":"VT"},{"r":161,"m":3.62,"k":"LP"},{"r":161,"m":3.74,"k":"LP"},{"r":161,"m":4.67,"k":"TR"},
{"r":162,"m":1.03,"k":"VT"},{"r":162,"m":1.52,"k":"LP"},{"r":162,"m":2.5,"k":"AV"},{"r":162,"m":2.98,"k":"TI"},
{"r":163,"m":2.98,"k":"TI"},
{"r":164,"m":1.18,"k":"IC"},{"r":164,"m":2.98,"k":"TI"},
{"r":165,"m":2.98,"k":"TI"},{"r":165,"m":4.76,"k":"IC"},
{"r":166,"m":2.98,"k":"TI"},
{"r":167,"m":0.0,"k":"LP"},{"r":167,"m":0.36,"k":"LP"},{"r":167,"m":2.98,"k":"TI"},
{"r":168,"m":0.69,"k":"LP"},{"r":168,"m":1.95,"k":"LP"},{"r":168,"m":2.98,"k":"TI"},
{"r":169,"m":0.23,"k":"LP"},{"r":169,"m":1.25,"k":"AV"},{"r":169,"m":2.98,"k":"TI"},
{"r":170,"m":1.34,"k":"LP"},{"r":170,"m":1.7,"k":"LP"},{"r":170,"m":2.98,"k":"TI"},
{"r":171,"m":2.99,"k":"TI"},
{"r":172,"m":2.98,"k":"TI"},{"r":172,"m":3.63,"k":"LP"},{"r":172,"m":4.59,"k":"LP"},
{"r":173,"m":0.05,"k":"LP"},{"r":173,"m":0.34,"k":"LP"},{"r":173,"m":0.85,"k":"LP"},{"r":173,"m":1.55,"k":"LP"},{"r":173,"m":1.93,"k":"LP"},{"r":173,"m":2.11,"k":"LP"},{"r":173,"m":2.29,"k":"LP"},{"r":173,"m":2.98,"k":"TI"},
{"r":174,"m":0.49,"k":"IC"},{"r":174,"m":2.98,"k":"TI"},
{"r":175,"m":2.98,"k":"TI"},
{"r":176,"m":2.98,"k":"TI"},{"r":176,"m":3.3,"k":"VT"},{"r":176,"m":4.54,"k":"AV"},
{"r":177,"m":2.98,"k":"TI"},
{"r":178,"m":1.18,"k":"LP"},{"r":178,"m":1.98,"k":"TI"},
{"r":179,"m":2.98,"k":"TI"},
{"r":180,"m":2.98,"k":"TI"},{"r":180,"m":3.92,"k":"IC"},{"r":180,"m":4.76,"k":"IC"},
{"r":181,"m":0.25,"k":"LP"},{"r":181,"m":0.49,"k":"LP"},{"r":181,"m":0.71,"k":"LP"},{"r":181,"m":1.26,"k":"LP"},{"r":181,"m":2.98,"k":"TI"},
{"r":182,"m":1.69,"k":"VT"},{"r":182,"m":2.15,"k":"VT"},{"r":182,"m":2.98,"k":"TI"},{"r":182,"m":4.53,"k":"IC"},
{"r":183,"m":2.96,"k":"LP"},{"r":183,"m":2.98,"k":"TI"},
{"r":184,"m":0.1,"k":"VT"},{"r":184,"m":1.02,"k":"IC"},{"r":184,"m":2.98,"k":"TI"},
{"r":185,"m":2.98,"k":"TI"},{"r":186,"m":2.98,"k":"TI"},{"r":187,"m":2.98,"k":"TI"},
{"r":188,"m":0.22,"k":"VT"},{"r":188,"m":2.98,"k":"TI"},{"r":188,"m":3.97,"k":"VT"},{"r":188,"m":4.5,"k":"LP"},
{"r":189,"m":1.1,"k":"VT"},{"r":189,"m":1.23,"k":"VT"},{"r":189,"m":2.98,"k":"TI"},
{"r":190,"m":2.32,"k":"VT"},{"r":190,"m":2.98,"k":"TI"},{"r":190,"m":3.05,"k":"VT"},{"r":190,"m":4.4,"k":"VT"},
{"r":191,"m":0.5,"k":"VT"},{"r":191,"m":2.98,"k":"TI"},{"r":191,"m":3.81,"k":"LP"},{"r":191,"m":4.16,"k":"VT"},
{"r":192,"m":2.34,"k":"VT"},{"r":192,"m":2.98,"k":"TI"},{"r":192,"m":4.03,"k":"VT"},{"r":192,"m":4.96,"k":"AV"},
{"r":193,"m":2.98,"k":"TI"},{"r":193,"m":4.49,"k":"RE"},
{"r":194,"m":2.98,"k":"TI"},
{"r":195,"m":2.98,"k":"TI"},{"r":195,"m":3.87,"k":"IC"},
{"r":196,"m":3.12,"k":"AV"},{"r":196,"m":3.35,"k":"AV"},
{"r":197,"m":2.98,"k":"TI"},{"r":197,"m":4.76,"k":"IC"},
{"r":198,"m":2.8,"k":"RE"},{"r":198,"m":3.99,"k":"TI"},
{"r":199,"m":2.98,"k":"TI"},{"r":200,"m":2.98,"k":"TI"},
{"r":201,"m":1.85,"k":"IC"},{"r":201,"m":2.95,"k":"LP"},{"r":201,"m":3.15,"k":"LP"},{"r":201,"m":3.36,"k":"LP"},{"r":201,"m":3.98,"k":"TI"},{"r":201,"m":4.82,"k":"IC"},
{"r":202,"m":2.98,"k":"TI"},{"r":202,"m":3.58,"k":"RE"},{"r":202,"m":4.64,"k":"IC"},
{"r":203,"m":1.84,"k":"IC"},{"r":203,"m":2.98,"k":"TI"},{"r":203,"m":3.78,"k":"IC"},
{"r":204,"m":2.98,"k":"TI"},{"r":204,"m":4.56,"k":"IC"},
{"r":205,"m":1.0,"k":"IC"},{"r":205,"m":1.91,"k":"IC"},{"r":205,"m":2.98,"k":"TI"},{"r":205,"m":4.13,"k":"AV"},
{"r":206,"m":0.51,"k":"RE"},{"r":206,"m":2.98,"k":"TI"},
{"r":207,"m":2.98,"k":"TI"},{"r":207,"m":3.17,"k":"RE"},{"r":207,"m":3.73,"k":"VT"},
{"r":208,"m":0.3,"k":"VT"},{"r":208,"m":2.98,"k":"TI"},
{"r":209,"m":2.98,"k":"TI"},
{"r":210,"m":0.17,"k":"IC"},{"r":210,"m":2.98,"k":"TI"},
{"r":211,"m":1.18,"k":"IC"},{"r":211,"m":2.98,"k":"TI"},
{"r":212,"m":0.95,"k":"VT"},{"r":212,"m":2.98,"k":"TI"},
{"r":213,"m":1.09,"k":"VT"},{"r":213,"m":1.99,"k":"VT"},{"r":213,"m":2.98,"k":"TI"},{"r":213,"m":4.93,"k":"IC"},
{"r":214,"m":2.51,"k":"IC"},{"r":214,"m":2.72,"k":"IC"},{"r":214,"m":2.98,"k":"TI"},{"r":214,"m":4.95,"k":"VT"},
{"r":215,"m":1.36,"k":"VT"},{"r":215,"m":2.82,"k":"VT"},{"r":215,"m":2.98,"k":"TI"},
{"r":216,"m":1.18,"k":"AV"},{"r":216,"m":2.98,"k":"TI"},
{"r":217,"m":1.54,"k":"AV"},{"r":217,"m":2.89,"k":"AV"},{"r":217,"m":3.98,"k":"TI"},
{"r":218,"m":2.98,"k":"TI"},{"r":218,"m":3.1,"k":"IC"},{"r":218,"m":4.46,"k":"AV"},
{"r":219,"m":1.9,"k":"IC"},{"r":219,"m":2.15,"k":"IC"},{"r":219,"m":2.98,"k":"TI"},{"r":219,"m":4.79,"k":"AV"},
{"r":220,"m":1.25,"k":"AV"},{"r":220,"m":2.98,"k":"TI"},{"r":220,"m":3.5,"k":"IC"},{"r":220,"m":4.08,"k":"VT"},{"r":220,"m":4.2,"k":"IC"},{"r":220,"m":4.32,"k":"IC"},{"r":220,"m":4.47,"k":"IC"},{"r":220,"m":4.57,"k":"IC"},
{"r":221,"m":1.02,"k":"IC"},{"r":221,"m":2.98,"k":"TI"},
{"r":222,"m":0.65,"k":"IC"},{"r":222,"m":2.15,"k":"TL"},{"r":222,"m":2.32,"k":"IC"},{"r":222,"m":2.72,"k":"IC"},{"r":222,"m":2.87,"k":"VT"},{"r":222,"m":3.23,"k":"AV"},{"r":222,"m":3.7,"k":"LP"},{"r":222,"m":3.98,"k":"TI"},{"r":222,"m":4.02,"k":"LP"},
{"r":223,"m":2.3,"k":"IC"},{"r":223,"m":2.72,"k":"IC"},{"r":223,"m":2.84,"k":"AV"},{"r":223,"m":2.98,"k":"TI"},{"r":223,"m":4.79,"k":"AV"},
{"r":224,"m":0.49,"k":"IC"},{"r":224,"m":2.53,"k":"IC"},{"r":224,"m":2.66,"k":"IC"},{"r":224,"m":2.98,"k":"TI"},{"r":224,"m":3.04,"k":"AV"},{"r":224,"m":4.21,"k":"IC"},
{"r":225,"m":0.34,"k":"VT"},{"r":225,"m":1.8,"k":"AV"},{"r":225,"m":2.43,"k":"IC"},{"r":225,"m":2.78,"k":"IC"},{"r":225,"m":2.98,"k":"TI"},{"r":225,"m":3.48,"k":"IC"},{"r":225,"m":4.46,"k":"IC"},
{"r":226,"m":1.47,"k":"IC"},{"r":226,"m":1.59,"k":"VT"},{"r":226,"m":2.98,"k":"TI"},
{"r":227,"m":0.54,"k":"RE"},{"r":227,"m":1.59,"k":"VT"},{"r":227,"m":2.18,"k":"VT"},{"r":227,"m":2.44,"k":"IC"},{"r":227,"m":2.98,"k":"TI"},{"r":227,"m":3.25,"k":"IC"},{"r":227,"m":4.27,"k":"LP"},
{"r":228,"m":0.47,"k":"AV"},{"r":228,"m":0.75,"k":"AV"},{"r":228,"m":1.29,"k":"LP"},{"r":228,"m":2.98,"k":"TI"},
{"r":229,"m":1.04,"k":"LP"},{"r":229,"m":2.98,"k":"TI"},{"r":229,"m":3.35,"k":"IC"},{"r":229,"m":4.25,"k":"IC"},{"r":229,"m":4.62,"k":"RE"},
{"r":230,"m":1.57,"k":"CA"},{"r":230,"m":2.3,"k":"AV"},{"r":230,"m":2.98,"k":"TI"},{"r":230,"m":3.45,"k":"CA"},{"r":230,"m":4.18,"k":"IC"},
{"r":231,"m":0.21,"k":"IC"},{"r":231,"m":0.5,"k":"CA"},{"r":231,"m":1.56,"k":"LP"},{"r":231,"m":1.98,"k":"IC"},{"r":231,"m":2.98,"k":"TI"},{"r":231,"m":3.84,"k":"CA"},{"r":231,"m":4.1,"k":"IC"},
{"r":232,"m":0.22,"k":"CA"},{"r":232,"m":1.1,"k":"IC"},{"r":232,"m":2.19,"k":"CA"},{"r":232,"m":2.98,"k":"TI"},{"r":232,"m":4.07,"k":"LP"},{"r":232,"m":4.3,"k":"TR"},
{"r":233,"m":-0.01,"k":"CA"},{"r":233,"m":1.27,"k":"LP"},{"r":233,"m":1.49,"k":"LP"},{"r":233,"m":1.72,"k":"CA"},{"r":233,"m":2.85,"k":"CA"},{"r":233,"m":3.11,"k":"LP"},{"r":233,"m":3.42,"k":"IC"},{"r":233,"m":3.98,"k":"TI"},{"r":233,"m":4.29,"k":"AV"},
{"r":234,"m":1.61,"k":"LP"},{"r":234,"m":2.98,"k":"TI"},{"r":234,"m":4.09,"k":"LP"},
{"r":235,"m":2.98,"k":"TI"},{"r":235,"m":4.34,"k":"CA"},
{"r":236,"m":1.56,"k":"CA"},{"r":236,"m":2.12,"k":"LP"},{"r":236,"m":2.95,"k":"CA"},{"r":236,"m":2.98,"k":"TI"},{"r":236,"m":4.77,"k":"CA"},
{"r":237,"m":0.45,"k":"CA"},{"r":237,"m":1.2,"k":"CA"},{"r":237,"m":2.98,"k":"TI"},{"r":237,"m":4.18,"k":"CA"},
{"r":238,"m":0.59,"k":"CA"},{"r":238,"m":1.14,"k":"IC"},{"r":238,"m":1.29,"k":"IC"},{"r":238,"m":1.39,"k":"CA"},{"r":238,"m":2.05,"k":"CA"},{"r":238,"m":2.91,"k":"IC"},{"r":238,"m":2.98,"k":"TI"},{"r":238,"m":4.23,"k":"CA"},{"r":238,"m":4.26,"k":"IC"},{"r":238,"m":4.76,"k":"CA"},
{"r":239,"m":1.12,"k":"CA"},{"r":239,"m":2.48,"k":"IC"},{"r":239,"m":2.98,"k":"TI"},{"r":239,"m":4.55,"k":"CA"},
{"r":240,"m":1.15,"k":"CA"},{"r":240,"m":2.98,"k":"TI"},{"r":240,"m":2.99,"k":"RE"},{"r":240,"m":3.98,"k":"TI"},{"r":240,"m":4.94,"k":"CA"},
{"r":241,"m":1.68,"k":"CA"},{"r":241,"m":2.09,"k":"CA"},{"r":241,"m":2.35,"k":"IC"},{"r":241,"m":2.58,"k":"CA"},{"r":241,"m":2.98,"k":"TI"},{"r":241,"m":3.88,"k":"CA"},{"r":241,"m":4.75,"k":"RE"},
{"r":242,"m":0.73,"k":"IC"},{"r":242,"m":0.93,"k":"LP"},{"r":242,"m":1.7,"k":"IC"},{"r":242,"m":2.41,"k":"IC"},{"r":242,"m":2.98,"k":"TI"},{"r":242,"m":4.15,"k":"CA"},
{"r":243,"m":1.36,"k":"CA"},{"r":243,"m":1.97,"k":"DS"},{"r":243,"m":2.98,"k":"TI"},{"r":243,"m":3.05,"k":"IC"},{"r":243,"m":3.26,"k":"CA"},{"r":243,"m":3.96,"k":"CA"},
{"r":244,"m":0.35,"k":"IC"},{"r":244,"m":0.47,"k":"AV"},{"r":244,"m":0.68,"k":"CA"},{"r":244,"m":1.34,"k":"DS"},{"r":244,"m":2.98,"k":"TI"},{"r":244,"m":4.84,"k":"IC"},
{"r":245,"m":0.45,"k":"CA"},{"r":245,"m":0.63,"k":"AV"},{"r":245,"m":1.51,"k":"VT"},{"r":245,"m":2.08,"k":"IC"},{"r":245,"m":2.98,"k":"TI"},{"r":245,"m":3.54,"k":"CA"},
{"r":246,"m":0.64,"k":"IC"},{"r":246,"m":1.48,"k":"TR"},{"r":246,"m":3.54,"k":"CA"},
{"r":247,"m":0.5,"k":"IC"},{"r":247,"m":1.52,"k":"IC"},{"r":247,"m":1.98,"k":"TI"},{"r":247,"m":2.82,"k":"IC"},{"r":247,"m":3.3,"k":"IC"},{"r":247,"m":4.51,"k":"CA"},
{"r":248,"m":1.16,"k":"LP"},{"r":248,"m":1.67,"k":"CA"},{"r":248,"m":1.98,"k":"TI"},{"r":248,"m":4.62,"k":"CA"},
{"r":249,"m":0.8,"k":"IC"},{"r":249,"m":1.98,"k":"TI"},{"r":249,"m":2.53,"k":"IC"},{"r":249,"m":3.08,"k":"IC"},{"r":249,"m":4.19,"k":"CA"},
{"r":250,"m":1.98,"k":"TI"},{"r":250,"m":2.08,"k":"CA"},{"r":250,"m":4.4,"k":"CA"},
{"r":251,"m":1.3,"k":"CA"},{"r":251,"m":1.98,"k":"TI"},{"r":251,"m":2.7,"k":"IC"},{"r":251,"m":3.13,"k":"VT"},{"r":251,"m":4.32,"k":"CA"},
{"r":252,"m":1.11,"k":"VT"},{"r":252,"m":1.4,"k":"IC"},{"r":252,"m":1.98,"k":"TI"},{"r":252,"m":2.22,"k":"CA"},{"r":252,"m":2.64,"k":"IC"},{"r":252,"m":3.49,"k":"VT"},{"r":252,"m":3.59,"k":"IC"},
{"r":253,"m":0.22,"k":"VT"},{"r":253,"m":0.5,"k":"IC"},{"r":253,"m":1.98,"k":"TI"},{"r":253,"m":3.48,"k":"IC"},{"r":253,"m":4.4,"k":"RE"},
{"r":254,"m":0.36,"k":"IC"},{"r":254,"m":0.55,"k":"IC"},{"r":254,"m":1.3,"k":"CA"},{"r":254,"m":1.98,"k":"TI"},{"r":254,"m":2.82,"k":"RE"},
{"r":255,"m":0.31,"k":"CA"},{"r":255,"m":1.92,"k":"AV"},{"r":255,"m":1.98,"k":"TI"},{"r":255,"m":4.05,"k":"IC"},{"r":255,"m":4.13,"k":"RE"},
{"r":256,"m":1.31,"k":"CA"},{"r":256,"m":1.98,"k":"TI"},{"r":256,"m":2.75,"k":"CA"},{"r":256,"m":4.14,"k":"CA"},{"r":256,"m":4.68,"k":"CA"},
{"r":257,"m":0.54,"k":"IC"},{"r":257,"m":1.98,"k":"TI"},{"r":257,"m":2.25,"k":"VT"},{"r":257,"m":4.02,"k":"CA"},
{"r":258,"m":0.14,"k":"IC"},{"r":258,"m":1.11,"k":"IC"},{"r":258,"m":1.2,"k":"IC"},{"r":258,"m":1.98,"k":"TI"},{"r":258,"m":2.63,"k":"CA"},{"r":258,"m":4.49,"k":"AV"},
{"r":259,"m":1.67,"k":"IC"},{"r":259,"m":1.98,"k":"TI"},
{"r":260,"m":1.47,"k":"AV"},{"r":260,"m":1.98,"k":"TI"},
{"r":261,"m":1.27,"k":"VT"},{"r":261,"m":1.8,"k":"IC"},{"r":261,"m":1.98,"k":"TI"},{"r":261,"m":3.58,"k":"IC"},
{"r":262,"m":1.98,"k":"TI"},{"r":262,"m":2.73,"k":"RE"},{"r":262,"m":4.15,"k":"IC"},
{"r":263,"m":0.64,"k":"LP"},{"r":263,"m":1.18,"k":"IC"},{"r":263,"m":1.85,"k":"AV"},{"r":263,"m":1.98,"k":"TI"},{"r":263,"m":2.82,"k":"LP"},
{"r":264,"m":0.41,"k":"IC"},{"r":264,"m":1.36,"k":"VT"},{"r":264,"m":1.63,"k":"LP"},{"r":264,"m":1.98,"k":"TI"},{"r":264,"m":3.13,"k":"AV"},{"r":264,"m":3.82,"k":"RE"},{"r":264,"m":4.75,"k":"VT"},
{"r":265,"m":0.15,"k":"VT"},{"r":265,"m":1.98,"k":"TI"},{"r":265,"m":2.24,"k":"AV"},{"r":265,"m":3.39,"k":"VT"},
{"r":266,"m":0.63,"k":"IC"},{"r":266,"m":1.98,"k":"TI"},{"r":266,"m":1.98,"k":"IC"},{"r":266,"m":4.51,"k":"RE"},
{"r":267,"m":1.98,"k":"TI"},{"r":267,"m":3.09,"k":"IC"},{"r":267,"m":3.5,"k":"IC"},
{"r":268,"m":0.32,"k":"VT"},{"r":268,"m":0.88,"k":"VT"},{"r":268,"m":1.98,"k":"TI"},
{"r":269,"m":1.76,"k":"VT"},{"r":269,"m":1.98,"k":"TI"},
{"r":270,"m":1.98,"k":"TI"},{"r":270,"m":3.49,"k":"DS"},{"r":270,"m":4.88,"k":"IC"},
{"r":271,"m":1.98,"k":"TI"},{"r":271,"m":3.43,"k":"AV"},{"r":271,"m":3.96,"k":"LP"},
{"r":272,"m":1.98,"k":"TI"},{"r":272,"m":2.88,"k":"AV"},{"r":272,"m":3.98,"k":"VT"},
{"r":273,"m":1.98,"k":"TI"},{"r":273,"m":3.62,"k":"IC"},{"r":273,"m":3.76,"k":"IC"},
{"r":274,"m":1.98,"k":"TI"},{"r":274,"m":4.23,"k":"IC"},
{"r":275,"m":0.55,"k":"IC"},{"r":275,"m":0.64,"k":"IC"},{"r":275,"m":0.78,"k":"IC"},{"r":275,"m":1.98,"k":"TI"},{"r":275,"m":2.25,"k":"IC"},{"r":275,"m":2.42,"k":"IC"},{"r":275,"m":3.05,"k":"RE"},
{"r":276,"m":1.62,"k":"LP"},{"r":276,"m":1.98,"k":"TI"},{"r":276,"m":2.03,"k":"LP"},{"r":276,"m":2.52,"k":"LP"},
{"r":277,"m":0.24,"k":"VT"},{"r":277,"m":1.98,"k":"TI"},{"r":277,"m":3.72,"k":"IC"},{"r":277,"m":4.4,"k":"LP"},{"r":277,"m":4.77,"k":"LP"},
{"r":278,"m":1.98,"k":"TI"},{"r":278,"m":2.04,"k":"VT"},{"r":278,"m":2.96,"k":"VT"},
{"r":279,"m":0.82,"k":"AV"},{"r":279,"m":1.98,"k":"TI"},{"r":279,"m":2.7,"k":"IC"},{"r":279,"m":4.66,"k":"IC"},
{"r":280,"m":0.99,"k":"RE"},{"r":280,"m":1.98,"k":"TI"},{"r":280,"m":3.21,"k":"LP"},{"r":280,"m":3.41,"k":"LP"},
{"r":281,"m":1.98,"k":"TI"},{"r":281,"m":2.09,"k":"VT"},{"r":281,"m":2.84,"k":"VT"},
{"r":282,"m":0.67,"k":"VT"},{"r":282,"m":0.98,"k":"TI"},{"r":282,"m":1.05,"k":"VT"},{"r":282,"m":1.4,"k":"VT"},{"r":282,"m":2.83,"k":"IC"},{"r":282,"m":3.18,"k":"VT"},{"r":282,"m":3.8,"k":"VT"},
{"r":283,"m":0.91,"k":"VT"},{"r":283,"m":1.78,"k":"VT"},{"r":283,"m":1.98,"k":"TI"},{"r":283,"m":2.1,"k":"IC"},{"r":283,"m":2.37,"k":"IC"},{"r":283,"m":2.77,"k":"IC"},{"r":283,"m":4.16,"k":"VT"},{"r":283,"m":4.69,"k":"IC"},
{"r":284,"m":0.78,"k":"VT"},{"r":284,"m":1.55,"k":"VT"},{"r":284,"m":1.81,"k":"VT"},{"r":284,"m":1.98,"k":"TI"},{"r":284,"m":2.9,"k":"LP"},{"r":284,"m":4.35,"k":"VT"},{"r":284,"m":4.63,"k":"VT"},
{"r":285,"m":0.15,"k":"VT"},{"r":285,"m":0.5,"k":"VT"},{"r":285,"m":1.28,"k":"VT"},{"r":285,"m":1.98,"k":"TI"},{"r":285,"m":2.22,"k":"VT"},{"r":285,"m":3.54,"k":"VT"},
{"r":286,"m":0.84,"k":"IC"},{"r":286,"m":1.22,"k":"VT"},{"r":286,"m":1.78,"k":"VT"},{"r":286,"m":1.98,"k":"TI"},{"r":286,"m":2.16,"k":"VT"},{"r":286,"m":2.65,"k":"VT"},
{"r":287,"m":0.34,"k":"VT"},{"r":287,"m":1.57,"k":"VT"},{"r":287,"m":1.98,"k":"TI"},{"r":287,"m":4.81,"k":"IC"},{"r":287,"m":4.95,"k":"VT"}
]},
"layer":[
{"data":{"name":"rows"},
 "encoding":{"y":{"field":"r","type":"quantitative","scale":{"domain":[0,288],"range":[56.6,3752.6],"nice":false,"zero":false},"axis":null}},
 "layer":[
  {"transform":[{"filter":"datum.r % 6 != 0 && datum.r < 288"}],"mark":{"type":"point","shape":"M-2,-0.5V-5.5H3V-0.5","size":4,"filled":false,"stroke":"#ff3c00","strokeWidth":1,"opacity":1},
   "encoding":{"x":{"datum":0,"type":"quantitative","scale":{"domain":[0,5],"range":[12.5,1912.5],"nice":false,"zero":false},"axis":null}}},
  {"transform":[{"filter":"datum.r < 288"}],"mark":{"type":"point","shape":"M-2,-0.5V-5.5H3V-0.5","size":4,"filled":false,"stroke":"#ff3c00","strokeWidth":1,"opacity":1},
   "encoding":{"x":{"datum":1,"type":"quantitative","scale":{"domain":[0,5],"range":[12.5,1912.5],"nice":false,"zero":false},"axis":null}}},
  {"transform":[{"filter":"datum.r < 288"}],"mark":{"type":"point","shape":"M-2,-0.5V-5.5H3V-0.5","size":4,"filled":false,"stroke":"#ff3c00","strokeWidth":1,"opacity":1},
   "encoding":{"x":{"datum":2,"type":"quantitative","scale":{"domain":[0,5],"range":[12.5,1912.5],"nice":false,"zero":false},"axis":null}}},
  {"transform":[{"filter":"datum.r < 288"}],"mark":{"type":"point","shape":"M-2,-0.5V-5.5H3V-0.5","size":4,"filled":false,"stroke":"#ff3c00","strokeWidth":1,"opacity":1},
   "encoding":{"x":{"datum":3,"type":"quantitative","scale":{"domain":[0,5],"range":[12.5,1912.5],"nice":false,"zero":false},"axis":null}}},
  {"transform":[{"filter":"datum.r < 288"}],"mark":{"type":"point","shape":"M-2,-0.5V-5.5H3V-0.5","size":4,"filled":false,"stroke":"#ff3c00","strokeWidth":1,"opacity":1},
   "encoding":{"x":{"datum":4,"type":"quantitative","scale":{"domain":[0,5],"range":[12.5,1912.5],"nice":false,"zero":false},"axis":null}}},
  {"transform":[{"filter":"datum.r % 12 == 6"}],"mark":{"type":"point","shape":"M-2,0V-8.3H6V0","size":4,"filled":false,"stroke":"#ff0000","strokeWidth":1,"opacity":1},
   "encoding":{"x":{"datum":0,"type":"quantitative","scale":{"domain":[0,5],"range":[12.5,1912.5],"nice":false,"zero":false},"axis":null}}},
  {"transform":[{"filter":"datum.r % 12 == 0 && datum.r != 0 && datum.r != 144 && datum.r != 288"}],"mark":{"type":"point","shape":"M-1.5,0V-7H7.5V0","size":4,"filled":false,"stroke":"#0000ff","strokeWidth":2,"opacity":1},
   "encoding":{"x":{"datum":0,"type":"quantitative","scale":{"domain":[0,5],"range":[12.5,1912.5],"nice":false,"zero":false},"axis":null}}},
  {"transform":[{"filter":"datum.r == 144"}],"mark":{"type":"point","shape":"M-1.5,0V-8H7.5V0","size":4,"filled":false,"stroke":"#008000","strokeWidth":2,"opacity":1},
   "encoding":{"x":{"datum":0,"type":"quantitative","scale":{"domain":[0,5],"range":[12.5,1912.5],"nice":false,"zero":false},"axis":null}}},
  {"transform":[{"filter":"datum.r == 0 || datum.r == 288"}],"mark":{"type":"point","shape":"M-2.5,0V-9H17V0","size":4,"filled":false,"stroke":"#800000","strokeWidth":2,"opacity":1},
   "encoding":{"x":{"datum":0,"type":"quantitative","scale":{"domain":[0,5],"range":[12.5,1912.5],"nice":false,"zero":false},"axis":null}}}
 ]},
{"data":{"name":"hours"},
 "mark":{"type":"text","align":"left","baseline":"middle","dx":19.5,"dy":-4.5,"font":"Liberation Serif","fontWeight":"bold","fontSize":13,"fill":"#0000ff"},
 "encoding":{"x":{"datum":0,"type":"quantitative","scale":{"domain":[0,5],"range":[12.5,1912.5],"nice":false,"zero":false},"axis":null},
  "y":{"field":"r","type":"quantitative","scale":{"domain":[0,288],"range":[56.6,3752.6],"nice":false,"zero":false},"axis":null},
  "text":{"field":"l"}}},
{"data":{"name":"ev"},
 "mark":{"type":"circle","size":132,"stroke":"#000000","strokeWidth":1,"opacity":1},
 "encoding":{"x":{"field":"m","type":"quantitative","scale":{"domain":[0,5],"range":[12.5,1912.5],"nice":false,"zero":false},"axis":null},
  "y":{"field":"r","type":"quantitative","scale":{"domain":[0,288],"range":[56.6,3752.6],"nice":false,"zero":false},"axis":null},
  "fill":{"field":"k","type":"nominal","legend":null,"scale":{"domain":["VT","LP","BQ","HB","TR","TI","EX","SM","TO","AV","IC","CA","IF","SD","ZZ","CN","RY","TL","RE","DS"],"range":["#ff0000","#ffff00","#eee8aa","#ff8c00","#1e90ff","#00ffff","#8b008b","#e9a0e9","#ffa500","#1f8060","#d8d8d8","#4a2f4f","#ff00ff","#32cd32","#8a2be2","#503a58","#4a2a48","#0000ff","#6b6b6b","#c8a882"]}}}},
{"data":{"values":[{"t":"ACIC\u00a0\u00a0\u00a0\u00a0\u00a02023/07/27 00:00\u00a0\u00a0\u00a0\u00a0\u00a0\u00a0(1)\u00a0\u00a0\u00a0\u00a0[10000]\u00a0\u00a0(R)"}]},
 "mark":{"type":"text","align":"center","baseline":"middle","font":"Liberation Serif","fontSize":16,"fill":"#0000ff"},
 "encoding":{"x":{"datum":2.62,"type":"quantitative","scale":{"domain":[0,5],"range":[12.5,1912.5],"nice":false,"zero":false},"axis":null},
  "y":{"datum":-3.32,"type":"quantitative","scale":{"domain":[0,288],"range":[56.6,3752.6],"nice":false,"zero":false},"axis":null},
  "text":{"field":"t"}}},
{"data":{"name":"legv"},
 "encoding":{"x":{"field":"i","type":"quantitative","scale":{"domain":[0,13],"range":[45.5,435.1],"nice":false,"zero":false},"axis":null}},
 "layer":[
  {"mark":{"type":"circle","size":132,"stroke":"#000000","strokeWidth":1,"opacity":1},
   "encoding":{"y":{"datum":305.49,"type":"quantitative","scale":{"domain":[0,288],"range":[56.6,3752.6],"nice":false,"zero":false},"axis":null},
    "fill":{"field":"k","type":"nominal","legend":null,"scale":{"domain":["VT","LP","BQ","HB","TR","TI","EX","SM","TO","AV","IC","CA","IF","SD","ZZ","CN","RY","TL","RE","DS"],"range":["#ff0000","#ffff00","#eee8aa","#ff8c00","#1e90ff","#00ffff","#8b008b","#e9a0e9","#ffa500","#1f8060","#d8d8d8","#4a2f4f","#ff00ff","#32cd32","#8a2be2","#503a58","#4a2a48","#0000ff","#6b6b6b","#c8a882"]}}}},
  {"mark":{"type":"text","align":"center","baseline":"middle","font":"Liberation Serif","fontWeight":"bold","fontSize":15,"fill":"#000000"},
   "encoding":{"y":{"datum":307.04,"type":"quantitative","scale":{"domain":[0,288],"range":[56.6,3752.6],"nice":false,"zero":false},"axis":null},"text":{"field":"k"}}}
 ]},
{"data":{"name":"legn"},
 "encoding":{"x":{"field":"i","type":"quantitative","scale":{"domain":[0,5],"range":[1726.3,1878.1],"nice":false,"zero":false},"axis":null}},
 "layer":[
  {"mark":{"type":"circle","size":132,"stroke":"#000000","strokeWidth":1,"opacity":1},
   "encoding":{"y":{"datum":305.49,"type":"quantitative","scale":{"domain":[0,288],"range":[56.6,3752.6],"nice":false,"zero":false},"axis":null},
    "fill":{"field":"k","type":"nominal","legend":null,"scale":{"domain":["VT","LP","BQ","HB","TR","TI","EX","SM","TO","AV","IC","CA","IF","SD","ZZ","CN","RY","TL","RE","DS"],"range":["#ff0000","#ffff00","#eee8aa","#ff8c00","#1e90ff","#00ffff","#8b008b","#e9a0e9","#ffa500","#1f8060","#d8d8d8","#4a2f4f","#ff00ff","#32cd32","#8a2be2","#503a58","#4a2a48","#0000ff","#6b6b6b","#c8a882"]}}}},
  {"mark":{"type":"text","align":"center","baseline":"middle","font":"Liberation Serif","fontWeight":"bold","fontSize":15,"fill":"#000000"},
   "encoding":{"y":{"datum":307.04,"type":"quantitative","scale":{"domain":[0,288],"range":[56.6,3752.6],"nice":false,"zero":false},"axis":null},"text":{"field":"k"}}}
 ]},
{"data":{"values":[{"t":"Sismos Volcánicos","i":2.63},{"t":"Sismos No Volcánicos","i":2.69}]},
 "transform":[{"filter":"datum.t == 'Sismos Volcánicos'"}],
 "mark":{"type":"text","align":"center","baseline":"middle","font":"Liberation Serif","fontWeight":"bold","fontSize":15,"fill":"#000000"},
 "encoding":{"x":{"field":"i","type":"quantitative","scale":{"domain":[0,13],"range":[45.5,435.1],"nice":false,"zero":false},"axis":null},
  "y":{"datum":303.93,"type":"quantitative","scale":{"domain":[0,288],"range":[56.6,3752.6],"nice":false,"zero":false},"axis":null},
  "text":{"field":"t"}}},
{"data":{"values":[{"t":"Sismos Volcánicos","i":2.63},{"t":"Sismos No Volcánicos","i":2.69}]},
 "transform":[{"filter":"datum.t == 'Sismos No Volcánicos'"}],
 "mark":{"type":"text","align":"center","baseline":"middle","font":"Liberation Serif","fontWeight":"bold","fontSize":15,"fill":"#000000"},
 "encoding":{"x":{"field":"i","type":"quantitative","scale":{"domain":[0,5],"range":[1726.3,1878.1],"nice":false,"zero":false},"axis":null},
  "y":{"datum":303.93,"type":"quantitative","scale":{"domain":[0,288],"range":[56.6,3752.6],"nice":false,"zero":false},"axis":null},
  "text":{"field":"t"}}}
]
}
